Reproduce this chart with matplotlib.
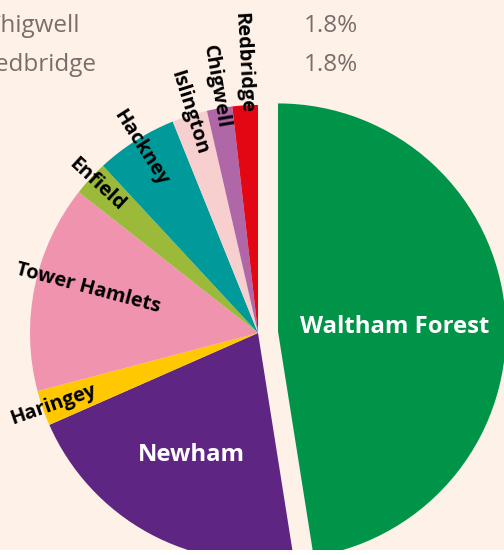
import numpy as np
import matplotlib
matplotlib.use('Agg')
from matplotlib import pyplot as plt
from matplotlib.patches import Rectangle

# доли районов, по часовой стрелке от 12 часов
boroughs = ['Waltham Forest', 'Newham', 'Haringey', 'Tower Hamlets', 'Enfield',
            'Hackney', 'Islington', 'Chigwell', 'Redbridge']
shares = [47.5, 20.9, 2.5, 14.7, 2.5, 5.8, 2.5, 1.8, 1.8]

# обрезанный кусок таблицы сверху
table_names = ['Chigwell', 'Redbridge']
table_values = ['1.8%', '1.8%']

colors = ['#009448', '#5f2583', '#ffc800', '#f093af', '#9bba3a',
          '#009a9a', '#f8cfcf', '#b067a8', '#e30613']
explode = [0.088, 0, 0, 0, 0, 0, 0, 0, 0]
# радиус подписи (в долях радиуса) и сдвиг угла, градусы
label_r = [0.51, 0.61, 0.95, 0.77, 0.962, 0.961, 1.015, 1.094, 1.186]
label_dang = [-2.2, 0, 0, -3.2, 0, 0, 0, 0, 0]
label_white = [True, True, False, False, False, False, False, False, False]

bg = '#fdf1e8'
W, H = 504, 555
R = 228.0
cx, cy = 258.0, 333.0  # центр круга в пикселях

fig = plt.figure(figsize=(W / 100, H / 100), dpi=100, facecolor=bg)
ax = fig.add_axes([0, 0, 1, 1])
ax.set_facecolor(bg)

wedges, _ = ax.pie(shares, colors=colors, explode=explode, startangle=90,
                   counterclock=False, radius=1.0, center=(0, 0),
                   wedgeprops=dict(linewidth=0))

# pie сам ставит пределы, поэтому после него
ax.set_xlim(-cx / R, (W - cx) / R)
ax.set_ylim(-(H - cy) / R, cy / R)
ax.set_aspect('equal')
ax.axis('off')

for w, name, r, da, white in zip(wedges, boroughs, label_r, label_dang, label_white):
    ang = 0.5 * (w.theta1 + w.theta2) + da
    x0, y0 = w.center
    x = x0 + r * np.cos(np.radians(ang))
    y = y0 + r * np.sin(np.radians(ang))
    if white:
        ax.text(x, y, name, color='white', fontsize=17.2, fontweight='bold',
                ha='center', va='center', family='Open Sans')
    else:
        ax.text(x, y, name, color='black', fontsize=14.4, fontweight='bold',
                ha='center', va='center', rotation=ang - 180,
                rotation_mode='anchor', family='Open Sans')

# строки таблицы (обрезаны слева)
ys = [32, 71]
for name, val, yp, xr in zip(table_names, table_values, ys, [80, 97]):
    ax.text((xr - cx) / R, (cy - yp) / R, name, color='#786e6a', fontsize=17.5,
            ha='right', va='baseline', family='Open Sans')
    ax.text((358 - cx) / R, (cy - yp) / R, val, color='#786e6a', fontsize=17.5,
            ha='right', va='baseline', family='Open Sans')

fig.patches.append(Rectangle((0, 0), 1, 5 / H, transform=fig.transFigure,
                             facecolor='white', edgecolor='none'))

fig.savefig('out.png', dpi=100, facecolor=bg)
